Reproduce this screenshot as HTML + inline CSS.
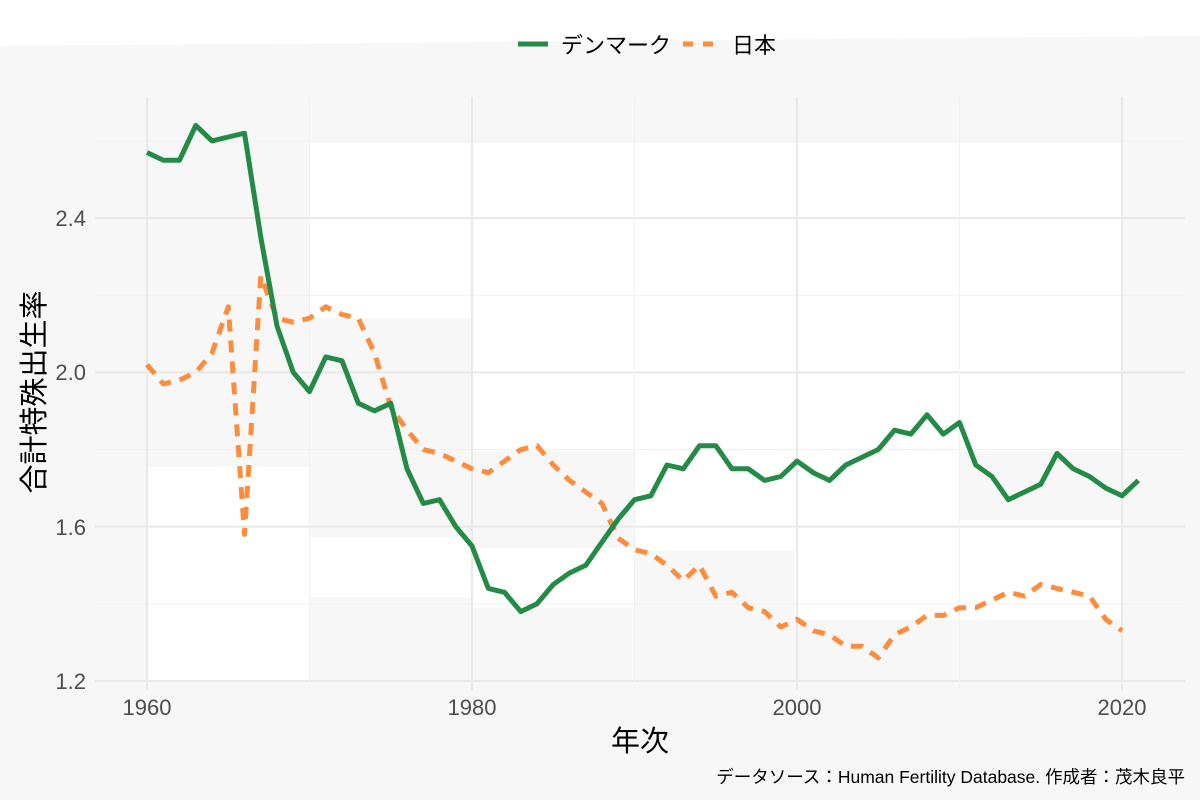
<!DOCTYPE html>
<html><head><meta charset="utf-8"><style>
html,body{margin:0;padding:0;background:#fff}
svg{display:block}
text{font-family:"Liberation Sans","Noto Sans CJK JP",sans-serif}
</style></head><body>
<svg id="s" width="1200" height="800" xmlns="http://www.w3.org/2000/svg">
<rect x="0" y="0" width="1200" height="800" fill="#f7f7f7"/>
<polygon points="0,0 1200,0 1200,36 0,46" fill="#ffffff"/>
<g fill="#ffffff">
<rect x="309" y="143" width="163" height="175"/>
<rect x="472" y="143" width="650" height="308"/>
<rect x="147" y="467" width="162" height="214"/>
<rect x="472" y="548" width="163" height="60"/>
<rect x="635" y="451" width="325" height="100"/>
<rect x="960" y="143" width="162" height="280"/>
<rect x="795" y="520" width="165" height="100"/>
<rect x="960" y="520" width="162" height="100"/>
<rect x="309" y="537" width="163" height="60"/>
</g>
<g id="grid" stroke="#ebebeb" stroke-width="2"></g>
<g fill="#4d4d4d" font-size="22">
<text x="86" y="226" text-anchor="end">2.4</text>
<text x="86" y="380" text-anchor="end">2.0</text>
<text x="86" y="535" text-anchor="end">1.6</text>
<text x="86" y="689" text-anchor="end">1.2</text>
<text x="147" y="715" text-anchor="middle">1960</text>
<text x="472" y="715" text-anchor="middle">1980</text>
<text x="797" y="715" text-anchor="middle">2000</text>
<text x="1122" y="715" text-anchor="middle">2020</text>
</g>
<text x="640" y="751" text-anchor="middle" font-size="29" fill="#000">年次</text>
<text transform="translate(44,392) rotate(-90)" text-anchor="middle" font-size="29" fill="#000">合計特殊出生率</text>
<text x="1185" y="783" text-anchor="end" font-size="17.5" fill="#000">データソース：Human Fertility Database. 作成者：茂木良平</text>
<line x1="518" y1="44" x2="548" y2="44" stroke="#238b45" stroke-width="5"/>
<text x="561" y="53" font-size="22" fill="#000">デンマーク</text>
<line x1="683" y1="44" x2="714" y2="44" stroke="#fd8d3c" stroke-width="5" stroke-dasharray="10,10"/>
<text x="732" y="53" font-size="22" fill="#000">日本</text>
<polyline id="jp" fill="none" stroke="#fd8d3c" stroke-width="5" stroke-dasharray="12,9" stroke-linejoin="round"/>
<polyline id="dk" fill="none" stroke="#238b45" stroke-width="5" stroke-linejoin="round"/>
</svg>
<script>
var X=function(y){return 147+(y-1960)*16.25},Y=function(v){return 681-(v-1.2)*385.8};
var g=document.getElementById('grid'),ns='http://www.w3.org/2000/svg';
function ln(a,b,c,d,w,col){var l=document.createElementNS(ns,'line');l.setAttribute('x1',a);l.setAttribute('y1',b);l.setAttribute('x2',c);l.setAttribute('y2',d);l.setAttribute('stroke-width',w);if(col)l.setAttribute('stroke',col);g.appendChild(l);}
[1.2,1.4,1.6,1.8,2.0,2.2,2.4,2.6].forEach(function(v,i){ln(95,Y(v),1185,Y(v),i%2?1:2,i%2?'#f1f1f1':'#e9e9e9');});
[1960,1970,1980,1990,2000,2010,2020].forEach(function(y,i){ln(X(y),97,X(y),690,i%2?1:2,i%2?'#f1f1f1':'#e9e9e9');});
var dk=[2.57,2.55,2.55,2.64,2.60,2.61,2.62,2.35,2.12,2.00,1.95,2.04,2.03,1.92,1.90,1.92,1.75,1.66,1.67,1.60,1.55,1.44,1.43,1.38,1.40,1.45,1.48,1.50,1.56,1.62,1.67,1.68,1.76,1.75,1.81,1.81,1.75,1.75,1.72,1.73,1.77,1.74,1.72,1.76,1.78,1.80,1.85,1.84,1.89,1.84,1.87,1.76,1.73,1.67,1.69,1.71,1.79,1.75,1.73,1.70,1.68,1.72];
var jp=[2.02,1.97,1.98,2.00,2.05,2.17,1.58,2.25,2.14,2.13,2.14,2.17,2.15,2.14,2.05,1.91,1.85,1.80,1.79,1.77,1.75,1.74,1.77,1.80,1.81,1.76,1.72,1.69,1.66,1.57,1.54,1.53,1.50,1.46,1.50,1.42,1.43,1.39,1.38,1.34,1.36,1.33,1.32,1.29,1.29,1.26,1.32,1.34,1.37,1.37,1.39,1.39,1.41,1.43,1.42,1.45,1.44,1.43,1.42,1.36,1.33];
function pts(a){return a.map(function(v,i){return X(1960+i).toFixed(1)+','+Y(v).toFixed(1)}).join(' ')}
document.getElementById('dk').setAttribute('points',pts(dk));
document.getElementById('jp').setAttribute('points',pts(jp));
</script>
</body></html>
